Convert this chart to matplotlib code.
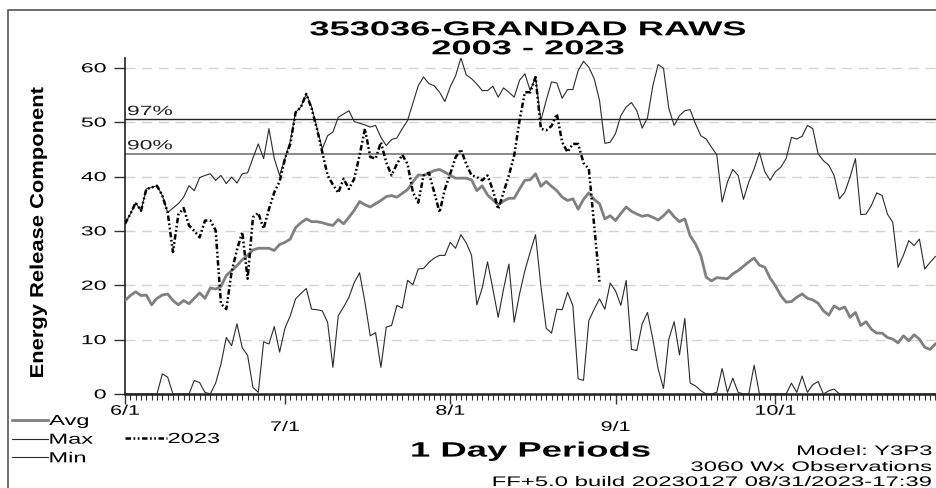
import numpy as np
import matplotlib
matplotlib.use('Agg')
import matplotlib.pyplot as plt
from matplotlib.patheffects import AbstractPathEffect
from matplotlib.transforms import Affine2D
from matplotlib.ticker import MultipleLocator
from matplotlib.patches import Rectangle

plt.rcParams['font.family'] = ['Liberation Sans', 'DejaVu Sans']

# ERC per day, 6/1 .. 10/31 (day 0 = 6/1)
avg = [17.2, 18.1, 18.8, 18.1, 18.2, 16.4, 17.6, 18.2, 18.4, 17.2,
       16.4, 17.2, 16.6, 17.6, 18.6, 17.6, 19.5, 19.3, 19.8, 21.8,
       22.7, 23.6, 24.7, 25.5, 26.5, 26.8, 26.8, 26.8, 26.4, 27.5,
       27.9, 28.5, 30.6, 31.5, 32.2, 31.7, 31.7, 31.5, 31.2, 31.0,
       32.1, 31.3, 32.5, 33.8, 35.4, 34.8, 34.4, 35.0, 35.6, 36.3,
       36.5, 36.2, 36.9, 37.6, 39.0, 40.3, 40.2, 40.6, 41.1, 41.3,
       40.8, 40.2, 39.7, 39.7, 39.7, 39.4, 37.4, 38.3, 36.6, 35.7,
       34.8, 35.5, 36.0, 36.0, 37.7, 39.3, 39.4, 40.5, 38.2, 39.1,
       38.2, 37.4, 36.2, 35.6, 35.9, 34.0, 35.8, 37.0, 35.8, 35.0,
       32.2, 32.8, 31.9, 33.2, 34.4, 33.6, 33.1, 32.7, 32.9, 32.5,
       32.0, 32.8, 33.8, 32.6, 31.7, 32.2, 29.1, 27.6, 25.5, 21.5,
       20.8, 21.4, 21.3, 21.2, 22.1, 22.7, 23.5, 24.3, 25.0, 23.7,
       23.3, 21.3, 19.9, 18.1, 16.9, 17.0, 17.8, 18.4, 17.6, 17.3,
       16.7, 15.3, 14.5, 16.2, 15.6, 16.0, 14.1, 15.0, 12.6, 13.3,
       11.9, 11.2, 11.2, 10.4, 10.1, 9.4, 10.7, 9.8, 10.9, 10.1,
       8.6, 8.2, 9.2]

erc_max = [31.3, 33.1, 35.2, 33.7, 37.7, 38.0, 38.3, 36.5, 33.4, 34.2,
           35.0, 36.2, 38.3, 37.4, 39.8, 40.2, 40.5, 39.3, 40.2, 38.7,
           39.9, 38.8, 40.5, 40.7, 43.4, 46.0, 43.3, 48.8, 43.3, 40.2,
           43.3, 46.5, 51.8, 52.8, 55.2, 52.8, 49.0, 45.1, 47.5, 48.2,
           50.9, 51.5, 52.1, 50.1, 49.8, 49.5, 49.1, 49.4, 47.2, 45.7,
           46.8, 47.1, 48.8, 50.3, 53.5, 56.7, 58.3, 57.1, 56.7, 55.5,
           53.8, 56.5, 58.5, 61.8, 58.7, 58.0, 57.0, 55.8, 55.8, 56.6,
           54.6, 56.3, 55.5, 54.6, 57.7, 58.9, 55.8, 58.3, 50.3, 54.0,
           57.4, 57.2, 54.4, 56.0, 56.0, 59.5, 61.2, 60.1, 58.0, 54.0,
           46.1, 46.3, 47.9, 51.2, 52.8, 53.6, 52.1, 48.9, 50.8, 56.7,
           60.6, 59.9, 52.5, 49.4, 51.2, 52.1, 52.3, 49.7, 47.5, 46.9,
           45.4, 44.0, 35.3, 39.0, 41.3, 40.2, 35.8, 39.0, 41.4, 44.4,
           40.9, 39.3, 40.9, 41.7, 43.3, 47.2, 46.9, 47.4, 49.4, 48.8,
           44.2, 42.9, 42.1, 40.2, 35.9, 37.1, 39.9, 43.3, 33.0, 33.1,
           34.7, 37.0, 36.5, 33.1, 31.6, 23.3, 25.5, 28.2, 27.3, 28.5,
           23.0, 24.2, 25.3]

erc_min = [0, 0, 0, 0, 0, 0, 0, 3.7, 3.1, 0,
           0, 0, 0, 2.5, 2.1, 0.3, 0, 2.0, 5.5, 10.4,
           8.9, 12.9, 8.5, 7.1, 1.2, 0.3, 9.6, 9.2, 12.4, 7.7,
           12.1, 14.4, 17.5, 18.5, 19.4, 15.6, 15.5, 15.3, 13.2, 4.9,
           14.4, 16.0, 17.8, 20.5, 22.3, 16.9, 10.7, 11.3, 4.9, 12.3,
           12.6, 16.3, 15.8, 20.9, 20.1, 23.0, 23.1, 24.2, 25.0, 25.5,
           25.5, 27.9, 26.8, 29.3, 27.8, 25.5, 16.4, 19.5, 24.3, 19.3,
           14.1, 19.3, 23.9, 13.2, 18.4, 22.7, 26.1, 29.3, 19.9, 12.1,
           11.2, 15.6, 15.5, 18.7, 16.3, 2.8, 2.5, 13.5, 15.6, 17.5,
           15.6, 20.4, 19.0, 16.3, 20.9, 8.2, 8.0, 12.9, 15.0, 10.1,
           4.6, 1.0, 10.1, 13.3, 7.2, 13.9, 2.0, 1.5, 0.6, 0,
           0, 0.3, 4.7, 0.3, 2.9, 0.3, 0, 0, 5.3, 0,
           0, 0, 0, 0, 0, 2.0, 0.3, 3.3, 0.3, 1.7,
           2.3, 0, 0.6, 0.9, 0, 0, 0, 0, 0, 0,
           0, 0, 0, 0, 0, 0, 0, 0, 0, 0,
           0, 0, 0]

# 2023 season so far (6/1 .. 8/29)
erc_2023 = [31.3, 33.1, 35.2, 33.7, 37.7, 38.0, 38.3, 36.5, 33.4, 26.1,
            33.0, 34.2, 31.0, 30.0, 28.8, 31.9, 31.9, 30.1, 16.6, 15.6,
            22.5, 26.5, 29.8, 21.2, 32.5, 33.3, 30.4, 34.0, 37.1, 39.1,
            43.3, 46.0, 51.8, 52.8, 55.2, 52.5, 48.8, 44.5, 40.2, 38.5,
            37.0, 39.6, 37.7, 39.6, 43.9, 48.8, 43.6, 43.3, 46.3, 42.6,
            40.2, 42.3, 44.0, 42.3, 37.1, 35.2, 40.2, 40.7, 37.1, 33.4,
            37.7, 40.5, 43.5, 45.0, 42.3, 40.2, 39.9, 39.3, 40.2, 37.5,
            34.0, 37.1, 40.2, 43.9, 50.3, 55.5, 55.5, 58.3, 48.8, 48.5,
            49.3, 51.5, 46.3, 44.5, 46.0, 46.0, 42.5, 41.4, 31.0, 20.6]

pct97 = 50.5
pct90 = 44.2

month_days = [0, 30, 61, 92, 122]
month_labels = ['6/1', '\n7/1', '8/1', '\n9/1', '10/1']


class Stretch(AbstractPathEffect):
    # the source program draws wide type, so widen glyphs along the text line
    def __init__(self, sx=1.7, anchor='center'):
        super().__init__()
        self.sx = sx
        self.anchor = anchor

    def draw_path(self, renderer, gc, tpath, affine, rgbFace=None):
        if len(tpath.vertices) == 0:
            return
        ext = tpath.get_extents()
        if self.anchor == 'left':
            x0 = ext.x0
        elif self.anchor == 'right':
            x0 = ext.x1
        else:
            x0 = (ext.x0 + ext.x1) / 2
        tr = Affine2D().translate(-x0, 0).scale(self.sx, 1).translate(x0, 0) + affine
        renderer.draw_path(gc, tpath, tr, rgbFace)


W, H = 937, 489
fig = plt.figure(figsize=(W / 100, H / 100), dpi=100)
ax = fig.add_axes([125 / W, 1 - 395 / H, (W - 125) / W, (395 - 59) / H])

days = np.arange(len(avg))
l_max, = ax.plot(days, erc_max, color='#2b2b2b', lw=0.8, zorder=3)
l_min, = ax.plot(days, erc_min, color='#2b2b2b', lw=0.8, zorder=3)
l_avg, = ax.plot(days, avg, color='#808080', lw=2.0, zorder=4)
l_23, = ax.plot(np.arange(len(erc_2023)), erc_2023, color='black', lw=1.8,
                ls=(0, (2.2, 1.0, 0.7, 1.0, 0.7, 1.0)), zorder=5)

ax.axhline(pct97, color='#262626', lw=1.0, zorder=2)
ax.axhline(pct90, color='#808080', lw=1.3, zorder=2)
ax.text(0.45, pct97 + 0.25, '97%', fontsize=9.7, color='#222222', ha='left', va='bottom',
        path_effects=[Stretch(1.7, 'left')])
ax.text(0.45, pct90 + 0.25, '90%', fontsize=9.7, color='#222222', ha='left', va='bottom',
        path_effects=[Stretch(1.7, 'left')])

ax.set_xlim(0, 152.3)
ax.set_ylim(0, 61.8)
ax.set_yticks(np.arange(0, 61, 10))
ax.set_xticks(month_days, month_labels)
ax.xaxis.set_minor_locator(MultipleLocator(1))
ax.grid(axis='y', color='#d4d4d4', lw=1.0, ls=(0, (7.2, 4.8)))
ax.set_axisbelow(True)

ax.tick_params(axis='x', which='major', direction='out', length=7, width=1, pad=0,
               labelsize=10, color='#333333')
ax.tick_params(axis='x', which='minor', direction='out', length=4.5, width=0.8, color='#333333')
ax.tick_params(axis='y', direction='out', length=8, width=1, pad=5.5, labelsize=9.5,
               color='#333333')
for s in ('top', 'right'):
    ax.spines[s].set_visible(False)
ax.spines['left'].set_linewidth(1.2)
ax.spines['bottom'].set_linewidth(1.8)
ax.spines['left'].set_color('#222222')
ax.spines['bottom'].set_color('#222222')

for t in ax.get_xticklabels():
    t.set_path_effects([Stretch(1.55)])
for t in ax.get_yticklabels():
    t.set_path_effects([Stretch(1.75, 'right')])

ax.set_ylabel('Energy Release Component', fontsize=13.5, fontweight='bold',
              path_effects=[Stretch(1.17)])
ax.yaxis.set_label_coords(-0.096, 0.479)
ax.set_xlabel('1 Day Periods', fontsize=15, fontweight='bold', va='baseline',
              path_effects=[Stretch(1.75)])
ax.xaxis.set_label_coords(0.5, -(457.6 - 395) / 336)

# two-line title as one text block
fig.text(528 / W, 1 - 21.3 / H, '353036-GRANDAD RAWS\n2003 - 2023', ha='center', va='top',
         multialignment='center', linespacing=1.0, fontsize=14.5, fontweight='bold',
         path_effects=[Stretch(1.8)])

for y, s in [(456, 'Model: Y3P3'), (472, '3060 Wx Observations'),
             (487, 'FF+5.0 build 20230127 08/31/2023-17:39')]:
    fig.text(932 / W, 1 - y / H, s, ha='right', va='baseline', fontsize=10,
             path_effects=[Stretch(1.72, 'right')])

leg1 = fig.legend([l_avg, l_max, l_min], ['Avg', 'Max', 'Min'], loc='upper left',
                  bbox_to_anchor=(12 / W, 1 - 415 / H), frameon=False, fontsize=10.5,
                  handlelength=2.5, handletextpad=0.05, labelspacing=0.32,
                  borderpad=0, borderaxespad=0)
leg2 = fig.legend([l_23], ['2023'], loc='upper left',
                  bbox_to_anchor=(125 / W, 1 - 433 / H), frameon=False, fontsize=10.5,
                  handlelength=2.9, handletextpad=0.05, borderpad=0, borderaxespad=0)
for t in leg1.get_texts() + leg2.get_texts():
    t.set_path_effects([Stretch(1.62, 'left')])

# outer frame of the source graphic (only top and left edges fall inside the image)
fig.add_artist(Rectangle((8 / W, -0.05), 1.0, 1 - 11 / H + 0.05, transform=fig.transFigure,
                         fill=False, edgecolor='#555555', lw=1.2))

fig.savefig('out.png', dpi=100)
